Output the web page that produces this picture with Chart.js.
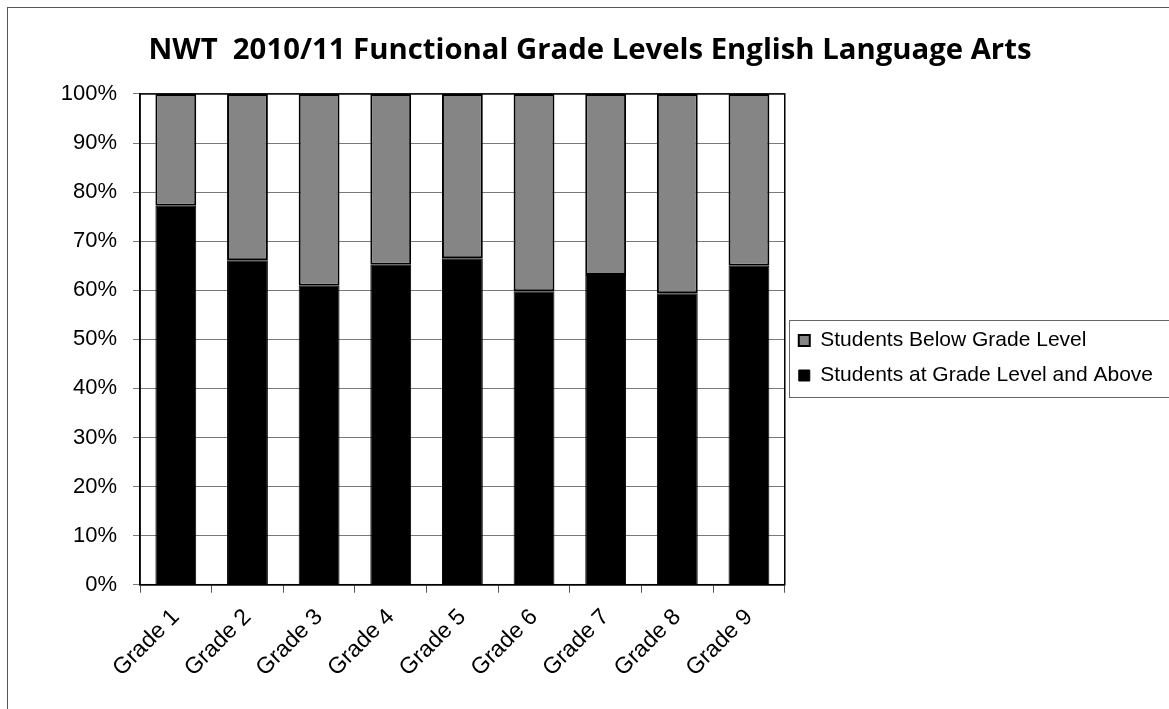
<!DOCTYPE html>
<html>
<head>
<meta charset="utf-8">
<script src="https://cdn.jsdelivr.net/npm/chart.js@4"></script>
<style>
  html, body { margin: 0; padding: 0; background: #fff; }
  #wrap { width: 1169px; height: 709px; position: relative; overflow: hidden; }
</style>
</head>
<body>
<div id="wrap"><canvas id="chart"></canvas></div>
<script>
const grades = ["Grade 1", "Grade 2", "Grade 3", "Grade 4", "Grade 5", "Grade 6", "Grade 7", "Grade 8", "Grade 9"];
// percent of students at grade level and above
const atOrAbove = [77.2, 66.1, 60.9, 65.2, 66.5, 59.8, 63.1, 59.4, 65.0];
// percent below grade level
const below = [22.8, 33.9, 39.1, 34.8, 33.5, 40.2, 36.9, 40.6, 35.0];
const yTicks = [0, 10, 20, 30, 40, 50, 60, 70, 80, 90, 100];

const axisFont = { family: "'Liberation Sans', Arial, sans-serif", size: 22 };

// frame of the chart, plot border and legend box
const framePlugin = {
  id: 'frame',
  afterLayout(chart) {
    // move legend down a little, like the original
    const lg = chart.legend;
    const h = lg.bottom - lg.top;
    lg.top = 358 - h / 2;
    lg.bottom = lg.top + h;
  },
  beforeDraw(chart) {
    const ctx = chart.ctx;
    ctx.save();
    ctx.fillStyle = '#fff';
    ctx.fillRect(0, 0, chart.width, chart.height);
    ctx.strokeStyle = '#555';
    ctx.lineWidth = 1;
    ctx.strokeRect(7.5, 7.5, chart.width + 20, chart.height + 20);
    ctx.restore();
  },
  afterDraw(chart) {
    const ctx = chart.ctx;
    const a = chart.chartArea;
    ctx.save();
    ctx.strokeStyle = '#000';
    ctx.lineWidth = 1.5;
    ctx.strokeRect(a.left, a.top, a.right - a.left, a.bottom - a.top);
    const boxes = chart.legend.legendHitBoxes;
    if (boxes && boxes.length) {
      const top = Math.min(...boxes.map(b => b.top)) - 10;
      const bottom = Math.max(...boxes.map(b => b.top + b.height)) + 11;
      const left = Math.min(...boxes.map(b => b.left)) - 10;
      ctx.strokeStyle = '#666';
      ctx.lineWidth = 1;
      ctx.strokeRect(Math.round(left) + 0.5, Math.round(top) + 0.5, chart.width, Math.round(bottom - top));
    }
    ctx.restore();
  }
};

new Chart(document.getElementById('chart'), {
  type: 'bar',
  data: {
    labels: grades,
    datasets: [
      {
        label: 'Students at Grade Level and Above',
        data: atOrAbove,
        backgroundColor: '#000',
        borderColor: '#000',
        borderWidth: 1,
        barPercentage: 0.57,
        categoryPercentage: 1.0
      },
      {
        label: 'Students Below Grade Level',
        data: below,
        backgroundColor: '#858585',
        borderColor: '#000',
        borderWidth: 2,
        borderSkipped: false,
        barPercentage: 0.57,
        categoryPercentage: 1.0
      }
    ]
  },
  options: {
    responsive: true,
    maintainAspectRatio: false,
    animation: false,
    layout: { padding: { left: 17, right: 6, top: 20, bottom: 16 } },
    plugins: {
      title: {
        display: true,
        text: 'NWT  2010/11 Functional Grade Levels English Language Arts',
        color: '#000',
        font: { family: "'Open Sans', Lato, sans-serif", size: 29.3, weight: 'bold' },
        padding: { top: 13, bottom: 25.8 }
      },
      legend: {
        position: 'right',
        reverse: true,
        maxWidth: 380,
        labels: {
          color: '#000',
          font: { family: "'Liberation Sans', Arial, sans-serif", size: 21 },
          boxWidth: 11,
          boxHeight: 11,
          padding: 14
        }
      },
      tooltip: { enabled: false }
    },
    scales: {
      x: {
        stacked: true,
        offset: true,
        grid: { offset: true, drawOnChartArea: false, color: '#555', tickLength: 8 },
        border: { color: '#000', width: 1.5 },
        ticks: { color: '#000', font: { family: axisFont.family, size: 23 }, minRotation: 45, maxRotation: 45, padding: 11 }
      },
      y: {
        stacked: true,
        min: 0,
        max: 100,
        afterBuildTicks(axis) { axis.ticks = yTicks.map(v => ({ value: v })); },
        afterFit(axis) { axis.width = 123; },
        grid: { color: '#7a7a7a', lineWidth: 1, tickLength: 7 },
        border: { color: '#000', width: 1.5 },
        ticks: { color: '#000', font: axisFont, padding: 16, callback: v => v + '%' }
      }
    }
  },
  plugins: [framePlugin]
});
</script>
</body>
</html>
